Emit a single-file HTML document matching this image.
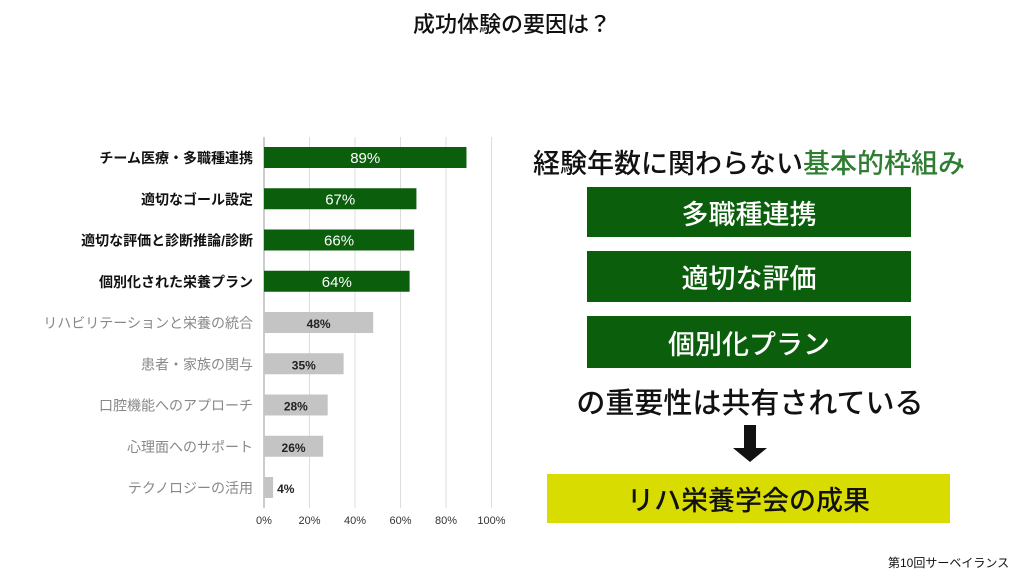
<!DOCTYPE html>
<html><head><meta charset="utf-8"><style>
body{margin:0;width:1024px;height:576px;background:#fff;overflow:hidden;position:relative;font-family:"Liberation Sans","Noto Sans CJK JP",sans-serif}
.abs{position:absolute}
.box{position:absolute;background:#0b5e0b;color:#fff;font-size:27px;display:flex;align-items:center;justify-content:center;font-weight:500}
</style></head><body>
<div class="abs" style="left:0;width:1024px;top:7px;text-align:center;font-size:22px;font-weight:500;color:#111">成功体験の要因は？</div>
<svg class="abs" style="left:0;top:0" width="520" height="576" id="chart"></svg>
<div class="abs" style="left:533px;top:142px;font-size:27px;font-weight:500;color:#111;white-space:nowrap">経験年数に関わらない<span style="color:#2e7d32">基本的枠組み</span></div>
<div class="box" style="left:587px;top:187px;width:324px;height:50px">多職種連携</div>
<div class="box" style="left:587px;top:251px;width:324px;height:51px">適切な評価</div>
<div class="box" style="left:587px;top:316px;width:324px;height:52px">個別化プラン</div>
<div class="abs" style="left:540px;width:420px;top:380px;text-align:center;font-size:29px;font-weight:500;color:#111">の重要性は共有されている</div>
<svg class="abs" style="left:733px;top:425px" width="34" height="38"><path d="M11 0h12v23h11L17 37 0 23h11z" fill="#111"/></svg>
<div class="abs" style="left:547px;top:474px;width:403px;height:49px;background:#d8dc00;display:flex;align-items:center;justify-content:center;font-size:27px;font-weight:500;color:#111">リハ栄養学会の成果</div>
<div class="abs" style="left:888px;top:554px;font-size:12px;color:#111">第10回サーベイランス</div>
<script>
const categories=["チーム医療・多職種連携","適切なゴール設定","適切な評価と診断推論/診断","個別化された栄養プラン","リハビリテーションと栄養の統合","患者・家族の関与","口腔機能へのアプローチ","心理面へのサポート","テクノロジーの活用"];
const values=[89,67,66,64,48,35,28,26,4];
const highlighted=[true,true,true,true,false,false,false,false,false];
const ticks=[0,20,40,60,80,100];
const NS="http://www.w3.org/2000/svg";
const svg=document.getElementById('chart');
const x=v=>264+v*2.275;
const y=i=>147+i*41.25;
function mk(t,a){const e=document.createElementNS(NS,t);for(const k in a)e.setAttribute(k,a[k]);svg.appendChild(e);return e;}
ticks.forEach(t=>{
  if(t>0){const g=mk('line',{x1:x(t),x2:x(t),y1:137,y2:508,stroke:'#ddd','stroke-width':1});
  
  }
  const l=mk('text',{x:x(t),y:524,'text-anchor':'middle','font-size':11,fill:'#333'});l.textContent=t+'%';
  
  
});
const ax=mk('line',{x1:x(0),x2:x(0),y1:137,y2:508,stroke:'#999','stroke-width':1});


categories.forEach((c,i)=>{
  const h=highlighted[i];
  const b=mk('rect',{x:x(0),y:y(i),width:x(values[i])-x(0),height:21,fill:h?'#0b5e0b':'#c4c4c4'});
  
  
  const lb=mk('text',{x:253,y:y(i)+16,'text-anchor':'end','font-size':14,'font-weight':h?'bold':'normal',fill:h?'#111':'#888'});
  lb.textContent=c;
  
  
  const small=values[i]<10;
  const v=mk('text',{x:small?x(values[i])+4:(x(0)+x(values[i]))/2,y:y(i)+16,'text-anchor':small?'start':'middle','font-size':h?15:12,'font-weight':h?'normal':'bold',fill:h?'#fff':'#222'});
  v.textContent=values[i]+'%';
  
  
});
</script>
</body></html>
